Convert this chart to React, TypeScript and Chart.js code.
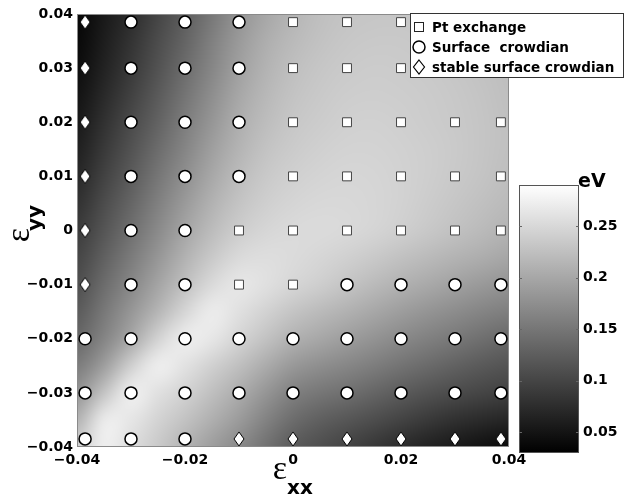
import React, { useEffect, useRef } from "react";
import { Chart, registerables } from "chart.js";

Chart.register(...registerables);

// ---- marker positions (strain) ----
const STRAIN_XX = [-0.0385, -0.03, -0.02, -0.01, 0, 0.01, 0.02, 0.03, 0.0385];
const STRAIN_YY = [0.0385, 0.03, 0.02, 0.01, 0, -0.01, -0.02, -0.03, -0.0385];
// P = Pt exchange, C = Surface crowdian, S = stable surface crowdian (rows top -> bottom)
const MECHANISM_ROWS = [
  "SCCCPPPPP",
  "SCCCPPPPP",
  "SCCCPPPPP",
  "SCCCPPPPP",
  "SCCPPPPPP",
  "SCCPPCCCC",
  "CCCCCCCCC",
  "CCCCCCCCC",
  "CCCSSSSSS",
];
const LEGEND_LABELS = ["Pt exchange", "Surface  crowdian", "stable surface crowdian"];

// ---- axis ticks ----
const X_TICKS = [-0.04, -0.02, 0, 0.02, 0.04];
const X_TICK_LABELS = ["\u22120.04", "\u22120.02", "0", "0.02", "0.04"];
const Y_TICKS = [0.04, 0.03, 0.02, 0.01, 0, -0.01, -0.02, -0.03, -0.04];
const Y_TICK_LABELS = ["0.04", "0.03", "0.02", "0.01", "0", "\u22120.01", "\u22120.02", "\u22120.03", "\u22120.04"];

// ---- colorbar ----
const CB_MIN = 0.03;
const CB_MAX = 0.29;
const CB_TICKS = [0.05, 0.1, 0.15, 0.2, 0.25];
const CB_TICK_LABELS = ["0.05", "0.1", "0.15", "0.2", "0.25"];
const CB_UNIT = "eV";

// ---- energy surface (eV) on a grid ----
const GRID_X = [-0.04, -0.035, -0.03, -0.025, -0.02, -0.015, -0.01, -0.005, 0, 0.005, 0.01, 0.015, 0.02, 0.025, 0.03, 0.035, 0.04];
const GRID_Y = [0.04, 0.035, 0.03, 0.025, 0.02, 0.015, 0.01, 0.005, 0, -0.005, -0.01, -0.015, -0.02, -0.025, -0.03, -0.035, -0.04];
const ENERGY = [
  [0.035, 0.055, 0.075, 0.100, 0.125, 0.152, 0.180, 0.200, 0.215, 0.225, 0.230, 0.232, 0.232, 0.230, 0.228, 0.225, 0.222],
  [0.038, 0.060, 0.082, 0.107, 0.132, 0.160, 0.187, 0.207, 0.220, 0.228, 0.233, 0.235, 0.235, 0.233, 0.230, 0.227, 0.223],
  [0.042, 0.065, 0.088, 0.114, 0.140, 0.167, 0.193, 0.213, 0.225, 0.232, 0.236, 0.238, 0.237, 0.235, 0.232, 0.228, 0.224],
  [0.048, 0.072, 0.096, 0.122, 0.148, 0.175, 0.200, 0.218, 0.229, 0.235, 0.239, 0.240, 0.239, 0.237, 0.234, 0.230, 0.225],
  [0.054, 0.080, 0.105, 0.130, 0.157, 0.183, 0.207, 0.223, 0.233, 0.238, 0.242, 0.243, 0.241, 0.238, 0.235, 0.231, 0.226],
  [0.062, 0.088, 0.114, 0.140, 0.166, 0.192, 0.214, 0.229, 0.237, 0.242, 0.245, 0.245, 0.243, 0.240, 0.236, 0.231, 0.226],
  [0.070, 0.097, 0.123, 0.150, 0.176, 0.201, 0.222, 0.235, 0.242, 0.246, 0.248, 0.247, 0.244, 0.240, 0.235, 0.230, 0.224],
  [0.080, 0.107, 0.133, 0.160, 0.187, 0.211, 0.230, 0.241, 0.247, 0.250, 0.250, 0.248, 0.244, 0.238, 0.232, 0.226, 0.220],
  [0.090, 0.117, 0.143, 0.171, 0.198, 0.222, 0.239, 0.248, 0.252, 0.253, 0.251, 0.247, 0.241, 0.234, 0.227, 0.220, 0.213],
  [0.100, 0.128, 0.155, 0.183, 0.211, 0.235, 0.252, 0.256, 0.253, 0.248, 0.242, 0.235, 0.227, 0.220, 0.213, 0.206, 0.199],
  [0.110, 0.140, 0.168, 0.197, 0.226, 0.252, 0.266, 0.258, 0.248, 0.240, 0.230, 0.220, 0.210, 0.202, 0.194, 0.186, 0.180],
  [0.122, 0.152, 0.183, 0.215, 0.248, 0.272, 0.258, 0.244, 0.230, 0.220, 0.210, 0.200, 0.190, 0.181, 0.173, 0.165, 0.158],
  [0.135, 0.165, 0.200, 0.245, 0.273, 0.266, 0.246, 0.228, 0.210, 0.200, 0.190, 0.180, 0.170, 0.161, 0.152, 0.143, 0.135],
  [0.155, 0.190, 0.242, 0.275, 0.260, 0.242, 0.225, 0.204, 0.185, 0.175, 0.167, 0.157, 0.147, 0.138, 0.129, 0.121, 0.115],
  [0.180, 0.230, 0.275, 0.258, 0.244, 0.225, 0.205, 0.182, 0.160, 0.150, 0.143, 0.133, 0.123, 0.114, 0.106, 0.100, 0.095],
  [0.210, 0.272, 0.265, 0.245, 0.228, 0.208, 0.188, 0.163, 0.140, 0.127, 0.118, 0.108, 0.098, 0.088, 0.079, 0.073, 0.068],
  [0.240, 0.275, 0.255, 0.235, 0.212, 0.190, 0.170, 0.145, 0.122, 0.110, 0.098, 0.086, 0.074, 0.064, 0.055, 0.047, 0.040],
];

const TICK_FONT = { family: '"DejaVu Sans"', size: 14, weight: "bold" as const };

function grayOf(v: number): number {
  const t = Math.max(0, Math.min(1, (v - CB_MIN) / (CB_MAX - CB_MIN)));
  return Math.round(t * 255);
}

function pointsOf(code: string) {
  const pts: { x: number; y: number }[] = [];
  MECHANISM_ROWS.forEach((row, j) => {
    row.split("").forEach((c, i) => {
      if (c === code) pts.push({ x: STRAIN_XX[i], y: STRAIN_YY[j] });
    });
  });
  return pts;
}

function makeDiamond(w: number, h: number, lw: number) {
  const c = document.createElement("canvas");
  c.width = w + 2;
  c.height = h + 2;
  const g = c.getContext("2d")!;
  const cx = c.width / 2;
  const cy = c.height / 2;
  g.beginPath();
  g.moveTo(cx, cy - h / 2);
  g.lineTo(cx + w / 2, cy);
  g.lineTo(cx, cy + h / 2);
  g.lineTo(cx - w / 2, cy);
  g.closePath();
  g.fillStyle = "#fff";
  g.fill();
  g.lineWidth = lw;
  g.strokeStyle = "#000";
  g.stroke();
  return c;
}

const heatmapPlugin = {
  id: "heatmap",
  beforeDatasetsDraw(chart: any) {
    const { ctx, chartArea, scales } = chart;
    const nx = GRID_X.length;
    const ny = GRID_Y.length;
    const off = document.createElement("canvas");
    off.width = nx;
    off.height = ny;
    const octx = off.getContext("2d")!;
    const img = octx.createImageData(nx, ny);
    for (let j = 0; j < ny; j++) {
      for (let i = 0; i < nx; i++) {
        const g = grayOf(ENERGY[j][i]);
        const k = (j * nx + i) * 4;
        img.data[k] = g;
        img.data[k + 1] = g;
        img.data[k + 2] = g;
        img.data[k + 3] = 255;
      }
    }
    octx.putImageData(img, 0, 0);
    const x0 = scales.x.getPixelForValue(GRID_X[0]);
    const x1 = scales.x.getPixelForValue(GRID_X[nx - 1]);
    const y0 = scales.y.getPixelForValue(GRID_Y[0]);
    const y1 = scales.y.getPixelForValue(GRID_Y[ny - 1]);
    ctx.save();
    ctx.beginPath();
    ctx.rect(chartArea.left, chartArea.top, chartArea.right - chartArea.left, chartArea.bottom - chartArea.top);
    ctx.clip();
    ctx.imageSmoothingEnabled = true;
    (ctx as any).imageSmoothingQuality = "high";
    ctx.drawImage(off, 0.5, 0.5, nx - 1, ny - 1, x0, y0, x1 - x0, y1 - y0);
    ctx.restore();
    // plot frame
    ctx.save();
    ctx.strokeStyle = "#8a8a8a";
    ctx.lineWidth = 1;
    ctx.strokeRect(chartArea.left + 0.5, chartArea.top + 0.5, chartArea.right - chartArea.left - 1, chartArea.bottom - chartArea.top - 1);
    ctx.restore();
  },
};

const overlayPlugin = {
  id: "overlay",
  afterDraw(chart: any) {
    const { ctx } = chart;
    ctx.save();

    // ---- legend ----
    const lx = 410, ly = 13, lw = 213, lh = 64;
    ctx.fillStyle = "#fff";
    ctx.fillRect(lx, ly, lw, lh);
    ctx.strokeStyle = "#333";
    ctx.lineWidth = 1;
    ctx.strokeRect(lx + 0.5, ly + 0.5, lw, lh);
    const rowsY = [27, 47, 67];
    const mx = 419;
    // square
    ctx.fillStyle = "#fff";
    ctx.strokeStyle = "#222";
    ctx.lineWidth = 1;
    ctx.fillRect(mx - 4.5, rowsY[0] - 4.5, 9, 9);
    ctx.strokeRect(mx - 4.5, rowsY[0] - 4.5, 9, 9);
    // circle
    ctx.beginPath();
    ctx.arc(mx, rowsY[1], 6, 0, Math.PI * 2);
    ctx.fill();
    ctx.lineWidth = 1.5;
    ctx.strokeStyle = "#000";
    ctx.stroke();
    // diamond
    ctx.beginPath();
    ctx.moveTo(mx, rowsY[2] - 7);
    ctx.lineTo(mx + 5.5, rowsY[2]);
    ctx.lineTo(mx, rowsY[2] + 7);
    ctx.lineTo(mx - 5.5, rowsY[2]);
    ctx.closePath();
    ctx.fill();
    ctx.lineWidth = 1.2;
    ctx.stroke();
    ctx.fillStyle = "#000";
    ctx.font = 'bold 13.5px "DejaVu Sans"';
    ctx.textAlign = "left";
    ctx.textBaseline = "middle";
    LEGEND_LABELS.forEach((t, i) => ctx.fillText(t, 432, rowsY[i] + 1));

    // ---- colorbar ----
    const cbL = 519, cbR = 579, cbT = 185, cbB = 453;
    const grad = ctx.createLinearGradient(0, cbB, 0, cbT);
    grad.addColorStop(0, "#000");
    grad.addColorStop(1, "#fff");
    ctx.fillStyle = grad;
    ctx.fillRect(cbL, cbT, cbR - cbL, cbB - cbT);
    ctx.strokeStyle = "#555";
    ctx.lineWidth = 1;
    ctx.strokeRect(cbL + 0.5, cbT + 0.5, cbR - cbL - 1, cbB - cbT - 1);
    ctx.font = 'bold 14px "DejaVu Sans"';
    ctx.textAlign = "left";
    ctx.textBaseline = "middle";
    CB_TICKS.forEach((v, i) => {
      const y = cbB - ((v - CB_MIN) / (CB_MAX - CB_MIN)) * (cbB - cbT);
      ctx.strokeStyle = "#666";
      ctx.beginPath();
      ctx.moveTo(cbL, Math.round(y) + 0.5);
      ctx.lineTo(cbL + 3, Math.round(y) + 0.5);
      ctx.moveTo(cbR - 3, Math.round(y) + 0.5);
      ctx.lineTo(cbR, Math.round(y) + 0.5);
      ctx.stroke();
      ctx.fillStyle = "#000";
      ctx.fillText(CB_TICK_LABELS[i], cbR + 4, y);
    });
    ctx.font = 'bold 19px "DejaVu Sans"';
    ctx.textBaseline = "alphabetic";
    ctx.fillText(CB_UNIT, 578, 187);

    // ---- axis titles ----
    ctx.fillStyle = "#000";
    ctx.textAlign = "center";
    ctx.textBaseline = "alphabetic";
    ctx.font = '34px "Liberation Serif"';
    ctx.fillText("\u03b5", 280, 479);
    ctx.font = 'bold 20px "DejaVu Sans"';
    ctx.fillText("xx", 300, 494);

    ctx.save();
    ctx.translate(21, 235);
    ctx.rotate(-Math.PI / 2);
    ctx.font = '34px "Liberation Serif"';
    ctx.fillText("\u03b5", 0, 8);
    ctx.font = 'bold 20px "DejaVu Sans"';
    ctx.fillText("yy", 17, 20);
    ctx.restore();

    ctx.restore();
  },
};

export default function App() {
  const ref = useRef<HTMLCanvasElement | null>(null);

  useEffect(() => {
    if (!ref.current) return;
    const diamond = makeDiamond(10, 14, 1);
    const chart = new Chart(ref.current, {
      type: "scatter",
      data: {
        datasets: [
          {
            label: LEGEND_LABELS[0],
            data: pointsOf("P"),
            pointStyle: "rect",
            pointRadius: 6.3,
            pointBackgroundColor: "#fff",
            pointBorderColor: "#444",
            pointBorderWidth: 1,
          },
          {
            label: LEGEND_LABELS[1],
            data: pointsOf("C"),
            pointStyle: "circle",
            pointRadius: 6,
            pointBackgroundColor: "#fff",
            pointBorderColor: "#000",
            pointBorderWidth: 1.5,
          },
          {
            label: LEGEND_LABELS[2],
            data: pointsOf("S"),
            pointStyle: diamond as any,
            pointRadius: 6,
            pointBackgroundColor: "#fff",
            pointBorderColor: "#000",
            pointBorderWidth: 1,
          },
        ],
      },
      options: {
        responsive: false,
        animation: false,
        devicePixelRatio: 1,
        layout: { padding: { left: 0, right: 125, top: 14, bottom: 0 } },
        plugins: {
          legend: { display: false },
          tooltip: { enabled: false },
        },
        scales: {
          x: {
            type: "linear",
            min: -0.04,
            max: 0.04,
            grid: { display: false, drawTicks: false },
            border: { display: false },
            afterBuildTicks: (s: any) => {
              s.ticks = X_TICKS.map((v) => ({ value: v }));
            },
            afterFit: (s: any) => {
              s.height = 51;
            },
            ticks: {
              padding: 5,
              autoSkip: false,
              maxRotation: 0,
              color: "#000",
              font: TICK_FONT,
              callback: (_v: any, i: number) => X_TICK_LABELS[i],
            },
          },
          y: {
            type: "linear",
            min: -0.04,
            max: 0.04,
            grid: { display: false, drawTicks: false },
            border: { display: false },
            afterBuildTicks: (s: any) => {
              s.ticks = Y_TICKS.map((v) => ({ value: v }));
            },
            afterFit: (s: any) => {
              s.width = 77;
            },
            ticks: {
              padding: 4,
              autoSkip: false,
              color: "#000",
              font: TICK_FONT,
              callback: (_v: any, i: number) => Y_TICK_LABELS[i],
            },
          },
        },
      },
      plugins: [heatmapPlugin, overlayPlugin],
    });
    return () => chart.destroy();
  }, []);

  return (
    <div style={{ position: "fixed", left: 0, top: 0, width: 634, height: 498, background: "#fff" }}>
      <canvas ref={ref} width={634} height={498} style={{ display: "block", width: 634, height: 498 }} />
    </div>
  );
}
